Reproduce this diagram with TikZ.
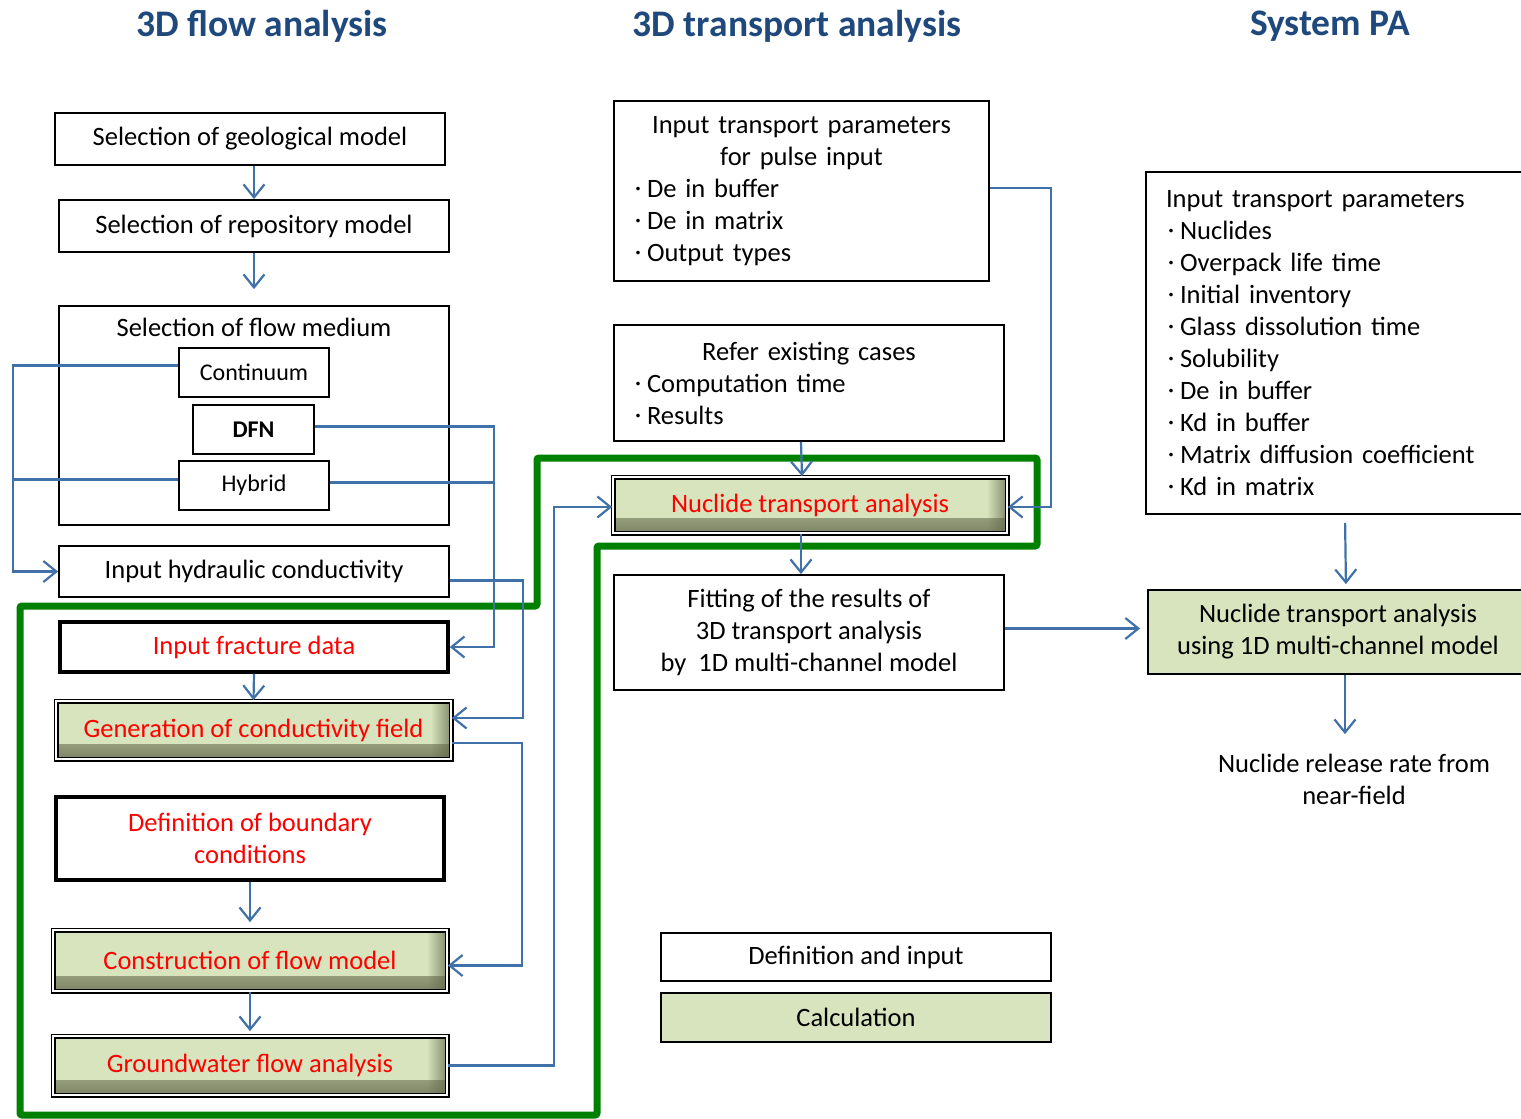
\documentclass[tikz,border=0pt]{standalone}
\usepackage{fontspec}
\setmainfont{Carlito}
\newfontfamily\cjk{Noto Sans CJK JP}
\usetikzlibrary{arrows.meta,fadings,positioning}
\definecolor{FlowBlue}{HTML}{1F497D}
\definecolor{LinkBlue}{HTML}{4171A9}
\definecolor{CalcGreen}{HTML}{D7E4BD}
\definecolor{CalcShadow}{HTML}{5F6447}
\definecolor{FrameGreen}{HTML}{008000}
\newcommand{\bul}{\hspace*{4pt}\makebox[18pt]{\raisebox{2pt}{\cjk\fontsize{17}{17}\selectfont ・}}}

\begin{document}
\begin{tikzpicture}[x=1pt,y=-1pt,
  every node/.style={font=\fontsize{26.5}{32}\selectfont},
  box/.style={draw,line width=1.8pt,inner sep=0pt,align=center},
  twin/.style={box,double=white,double distance=1.6pt,line width=1.7pt},
  calc/.style={fill=CalcGreen,path picture={
    \fill[CalcShadow,opacity=.75,path fading=north] ([yshift=15pt]path picture bounding box.south west) rectangle (path picture bounding box.south east);
    \fill[CalcShadow,opacity=.7,path fading=west] ([xshift=-20pt]path picture bounding box.south east) rectangle (path picture bounding box.north east);}},
  wire/.style={LinkBlue,line width=2.2pt},
  link/.style={wire,-{Straight Barb[length=13pt,width=21pt,line width=2.2pt]}},
  small/.style={font=\fontsize{24}{28}\selectfont},
  title/.style={text=FlowBlue,font=\bfseries\fontsize{37.5}{40}\selectfont}]
\useasboundingbox (0,0) rectangle (1521,1119);

% column titles
\node[title] (flowtitle) at (262,26) {3D flow analysis};
\node[title] (transtitle) at (797,26) {3D transport analysis};
\node[title] (patitle) at (1330,26) {System PA};

% green frame of the calculation loop
\draw[FrameGreen,line width=7pt,rounded corners=2pt]
  (20,606) -- (537,606) -- (537,458) -- (1037,458) -- (1037,546) -- (597,546) -- (597,1115) -- (20,1115) -- cycle;

% 3D flow analysis
\node[box,minimum width=390,minimum height=52] (geo) at (250,139) {Selection of geological model};
\node[box,minimum width=390,minimum height=52] (repo) at (254,226) {Selection of repository model};
\node[box,minimum width=390,minimum height=219] (medium) at (254,415.5) {};
\node (mediumtitle) at (254,327) {Selection of flow medium};
\node[box,small,minimum width=150,minimum height=49] (cont) at (254,372.5) {Continuum};
\node[box,minimum width=121,minimum height=49,font=\bfseries\fontsize{24}{28}\selectfont] (dfn) at (253.5,429.5) {DFN};
\node[box,small,minimum width=150,minimum height=49] (hyb) at (254,485.5) {Hybrid};
\node[box,minimum width=390,minimum height=51] (hydr) at (254,571.5) {Input hydraulic conductivity};
\node[box,line width=3.5pt,minimum width=388,minimum height=50,text=red] (frac) at (254,647) {Input fracture data};
\node[twin,calc,minimum width=395,minimum height=58,text=red] (gen) at (253.5,730) {Generation of conductivity field};
\node[box,line width=3.5pt,minimum width=388,minimum height=83,text=red] (bound) at (250,838.5) {Definition of boundary\\conditions};
\node[twin,calc,minimum width=394,minimum height=61,text=red] (cons) at (250,960.5) {Construction of flow model};
\node[twin,calc,minimum width=394,minimum height=59,text=red] (gw) at (250,1065.5) {Groundwater flow analysis};

% 3D transport analysis
\node[box,minimum width=375,minimum height=180,text width=353,inner xsep=11pt] (pulse) at (801.5,191)
  {\centering Input transport parameters\\for pulse input\par\raggedright\bul De in buffer\\\bul De in matrix\\\bul Output types\par};
\node[box,minimum width=390,minimum height=116,text width=368,inner xsep=11pt] (refer) at (809,383)
  {\centering Refer existing cases\par\raggedright\bul Computation time\\\bul Results\par};
\node[twin,calc,minimum width=394,minimum height=56,text=red] (nta) at (810,505) {Nuclide transport analysis};
\node[box,minimum width=390,minimum height=115] (fit) at (809,632.5) {Fitting of the results of\\3D transport analysis\\by\ \ 1D multi-channel model};
\node[box,minimum width=390,minimum height=48] (legdef) at (856,957) {Definition and input};
\node[box,fill=CalcGreen,minimum width=390,minimum height=49] (legcalc) at (856,1017.5) {Calculation};

% System PA
\node[box,minimum width=382,minimum height=342,text width=358,inner xsep=12pt] (params) at (1337,343)
  {\raggedright\hspace*{8pt}Input transport parameters\\\bul Nuclides\\\bul Overpack life time\\\bul Initial inventory\\\bul Glass dissolution time\\\bul Solubility\\\bul De in buffer\\\bul Kd in buffer\\\bul Matrix diffusion coefficient\\\bul Kd in matrix\par};
\node[box,fill=CalcGreen,minimum width=380,minimum height=84] (onedim) at (1338,632) {Nuclide transport analysis\\using 1D multi-channel model};
\node[align=center] (release) at (1354,779) {Nuclide release rate from\\near-field};

% connectors
\coordinate (leftbus) at (13,0);
\coordinate (dfnbus) at (494,0);
\coordinate (hydrbus) at (523,0);
\coordinate (genbus) at (522,0);
\coordinate (gwbus) at (554,0);
\coordinate (pulsebus) at (1051,0);
\coordinate (contout) at ([yshift=7pt]cont.west);
\coordinate (hybl) at ([yshift=6pt]hyb.west);
\coordinate (hybr) at ([yshift=3pt]hyb.east);
\coordinate (dfnout) at ([yshift=3pt]dfn.east);
\coordinate (genin) at ([yshift=12pt]gen.east);
\coordinate (consin) at ([yshift=-5pt]cons.east);
\coordinate (ntain) at ([yshift=-2pt]nta.west);
\coordinate (ntaback) at ([yshift=-2pt]nta.east);
\coordinate (fitout) at ([yshift=4pt]fit.east);

\draw[link] (repo.north |- geo.south) -- (repo.north);
\draw[link,shorten >=16pt] (repo.south) -- (medium.north);
\draw[link] (contout) -| (leftbus |- hydr.west) -- (hydr.west);
\draw[wire] (hybl) -- (leftbus |- hybl);
\draw[link] (dfnout) -| (dfnbus |- frac.east) -- (frac.east);
\draw[wire] (hybr) -- (dfnbus |- hybr);
\draw[link] ([yshift=-9pt]hydr.east) -| (hydrbus |- genin) -- (genin);
\draw[link] (frac.south) -- (gen.north);
\draw[link] ([yshift=-13pt]gen.east) -| (genbus |- consin) -- (consin);
\draw[link,shorten >=7pt] (bound.south) -- (cons.north);
\draw[link,shorten >=4pt] (cons.south) -- (gw.north);
\draw[link] (gw.east) -| (gwbus |- ntain) -- (ntain);

\draw[link] ([yshift=3pt]pulse.east) -| (pulsebus |- ntaback) -- (ntaback);
\draw[link] ([xshift=-8pt]refer.south) -- ([xshift=-8pt]nta.north);
\draw[link] ([xshift=-9pt]nta.south) -- ([xshift=-8pt]fit.north);
\draw[link,shorten >=7pt] (fitout) -- (fitout -| onedim.west);

\draw[link,shorten <=8pt,shorten >=5pt] ([xshift=8pt]params.south) -- ([xshift=8pt]onedim.north);
\draw[link,shorten >=16pt] ([xshift=7pt]onedim.south) -- ([xshift=7pt]onedim.south |- release.north);
\end{tikzpicture}
\end{document}
